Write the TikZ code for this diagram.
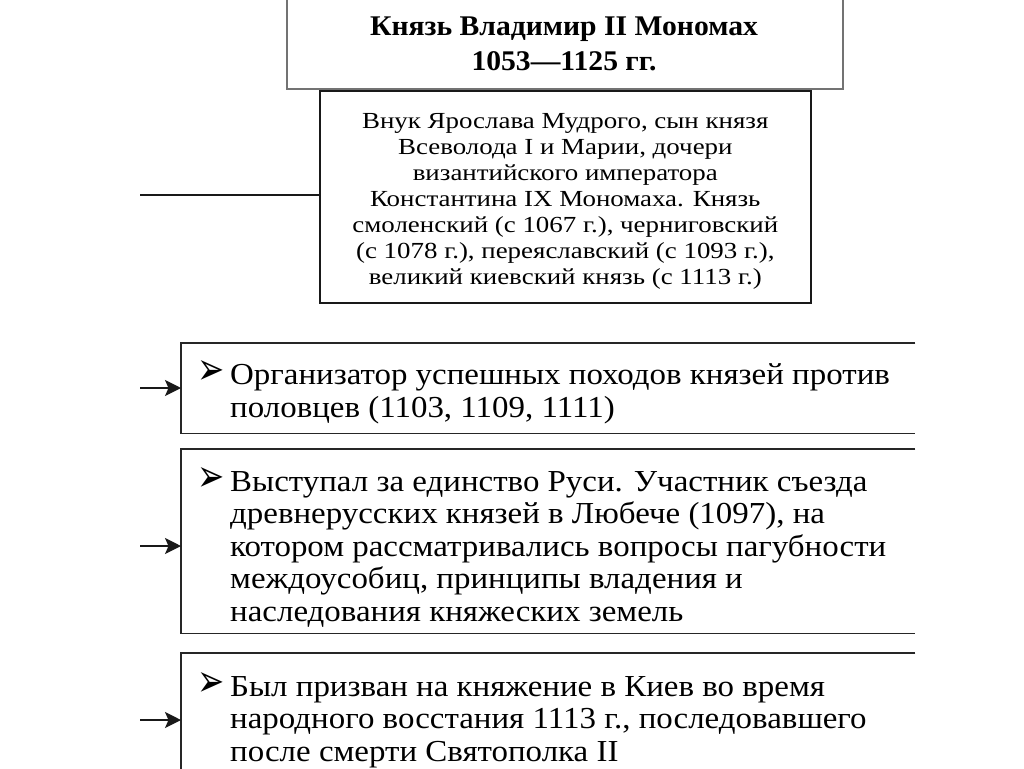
\documentclass[tikz,border=0pt]{standalone}
\usepackage{fontspec}
\usepackage{graphicx}
\setmainfont{Liberation Serif}
\newfontfamily\dejavu{DejaVu Sans}
\newfontfamily\titlefont[FakeStretch=1.04]{Liberation Serif}
\newfontfamily\infofont[FakeStretch=1.17]{Liberation Serif}
\newfontfamily\factfont[FakeStretch=1.08]{Liberation Serif}
\newcommand{\bul}{\makebox[33pt][l]{\raisebox{0pt}{\scalebox{1.3}[1.8]{\dejavu\fontsize{25}{25}\selectfont ➢}}}}
\usetikzlibrary{arrows.meta}
\begin{document}
\begin{tikzpicture}[x=1pt,y=-1pt,
  titlebox/.style={draw=black!55, line width=1.6pt, inner sep=0pt},
  infobox/.style={draw=black!90, line width=1.6pt, inner sep=0pt},
  infotext/.style={inner sep=0pt, align=center,
    font=\infofont\fontsize{23}{26}\selectfont},
  factbox/.style={inner sep=0pt, minimum width=734pt, anchor=north west},
  side/.style={draw=black!85, line width=1.8pt},
  facttext/.style={inner sep=0pt, anchor=west, align=left,
    font=\factfont\fontsize{30.5}{32.5}\selectfont},
  link/.style={draw=black!90, line width=1.4pt},
  arr/.style={link, -{Stealth[length=16pt, width=16pt, inset=3.5pt]}},
]
\useasboundingbox (0,0) rectangle (1024,768);
\fill[white] (0,0) rectangle (1024,768);

% title
\node[titlebox, minimum width=556pt, minimum height=110pt, anchor=south west] (title) at (286,90) {};
\node[inner sep=0pt, align=center, font=\titlefont\bfseries\fontsize{28.5}{35}\selectfont] (titletext) at (564,44)
  {Князь Владимир II Мономах\\1053—1125 гг.};

% info
\node[infobox, minimum width=491pt, minimum height=212pt, anchor=north west] (info) at (319,90) {};
\node[infotext] (infot) at ([yshift=-5pt]info.center)
  {Внук Ярослава Мудрого, сын князя\\
   Всеволода I и Марии, дочери\\
   византийского императора\\
   Константина IX Мономаха. Князь\\
   смоленский (с 1067 г.), черниговский\\
   (с 1078 г.), переяславский (с 1093 г.),\\
   великий киевский князь (с 1113 г.)};
\coordinate (s0) at (140,195);
\draw[link] (s0) -- (s0 -| info.west);

% fact boxes
\node[factbox, minimum height=90pt] (b1) at (181,343) {};
\node[factbox, minimum height=184pt] (b2) at (181,449) {};
\node[factbox, minimum height=134pt] (b3) at (181,653) {};
\foreach \b in {b1,b2,b3}{
  \draw[side] (\b.north east) -- (\b.north west) -- (\b.south west) -- (\b.south east);
}

\node[facttext] (t1) at ([xshift=16pt,yshift=-4pt]b1.west)
  {\bul\parbox[t]{700pt}{Организатор успешных походов князей против\\
   половцев (1103, 1109, 1111)}};
\node[facttext] (t2) at ([xshift=16pt,yshift=-6pt]b2.west)
  {\bul\parbox[t]{700pt}{Выступал за единство Руси. Участник съезда\\
   древнерусских князей в Любече (1097), на\\
   котором рассматривались вопросы пагубности\\
   междоусобиц, принципы владения и\\
   наследования княжеских земель}};
\node[facttext] (t3) at ([xshift=16pt]b3.west)
  {\bul\parbox[t]{700pt}{Был призван на княжение в Киев во время\\
   народного восстания 1113 г., последовавшего\\
   после смерти Святополка II}};

\coordinate (a1) at (140,388);
\coordinate (a2) at (140,546);
\coordinate (a3) at (140,720);
\draw[arr] (a1) -- (a1 -| b1.west);
\draw[arr] (a2) -- (a2 -| b2.west);
\draw[arr] (a3) -- (a3 -| b3.west);
\end{tikzpicture}
\end{document}
